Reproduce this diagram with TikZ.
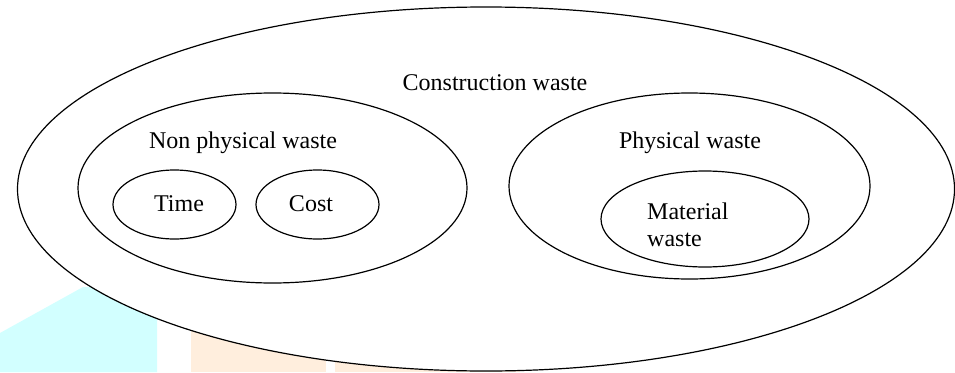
\documentclass[tikz,border=0pt]{standalone}
\usepackage{fontspec}
\setmainfont{Liberation Serif}
\usetikzlibrary{shapes.geometric}
\definecolor{wmcyan}{HTML}{D2FFFF}
\definecolor{wmorange}{HTML}{FFEEDD}
\tikzset{
  blob/.style={draw, ellipse, line width=1.2pt, inner sep=0pt, fill=white},
  lbl/.style={font=\fontsize{24}{28}\selectfont, inner sep=0pt},
}
\begin{document}
\begin{tikzpicture}[x=1pt,y=-1pt]
\useasboundingbox (0,0) rectangle (955,372);
\clip (0,0) rectangle (955,372);
% watermark shapes
\fill[wmcyan] (0,372) -- (0,333) -- (83,287) -- (157,287) -- (157,372) -- cycle;
\fill[wmorange] (191,290) rectangle (326,372);
\fill[wmorange] (335,290) rectangle (520,372);
% ellipses
\node[blob, minimum width=937pt, minimum height=364pt] (cw) at (486,189) {};
\node[blob, minimum width=389pt, minimum height=190pt] (np) at (272.5,188) {};
\node[blob, minimum width=361pt, minimum height=186pt] (pw) at (689.5,186) {};
\node[blob, minimum width=123pt, minimum height=69pt] (tm) at (174.5,204.5) {};
\node[blob, minimum width=123pt, minimum height=69pt] (cs) at (317.5,204.5) {};
\node[blob, minimum width=208pt, minimum height=96pt] (mw) at (705,219) {};
% labels
\node[lbl] (tcw) at (495,83) {Construction waste};
\node[lbl] (tnp) at (243,143) {Non physical waste};
\node[lbl] (tpw) at (690,143) {Physical waste};
\node[lbl] (ttm) at (179,204) {Time};
\node[lbl] (tcs) at (311,204) {Cost};
\node[lbl, anchor=west] (tmw1) at (647,211) {Material};
\node[lbl, anchor=west] (tmw2) at (647,240) {waste};
\end{tikzpicture}
\end{document}
